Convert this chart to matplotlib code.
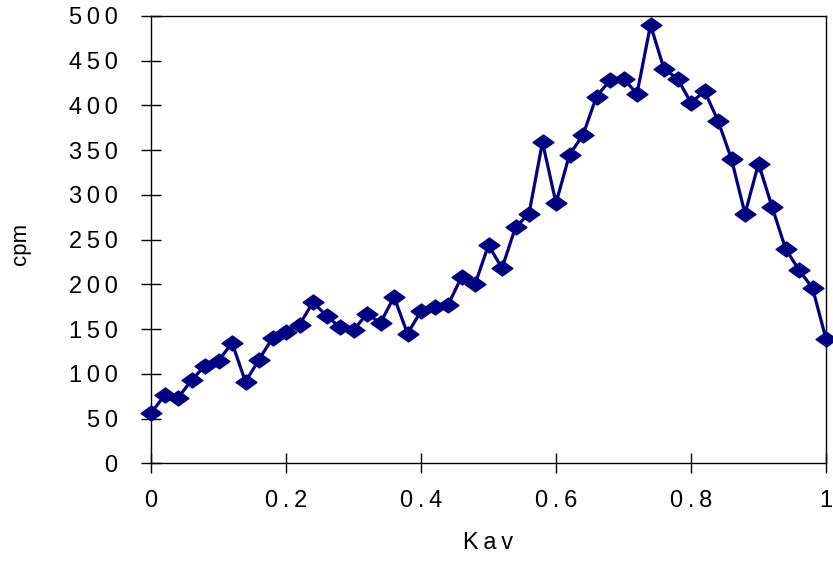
import matplotlib
matplotlib.use("Agg")
import matplotlib.pyplot as plt
from matplotlib.path import Path

plt.rcParams['font.family'] = ['Liberation Sans', 'DejaVu Sans']

# --- datos ---
kav = [0.00, 0.02, 0.04, 0.06, 0.08, 0.10, 0.12, 0.14, 0.16, 0.18,
       0.20, 0.22, 0.24, 0.26, 0.28, 0.30, 0.32, 0.34, 0.36, 0.38,
       0.40, 0.42, 0.44, 0.46, 0.48, 0.50, 0.52, 0.54, 0.56, 0.58,
       0.60, 0.62, 0.64, 0.66, 0.68, 0.70, 0.72, 0.74, 0.76, 0.78,
       0.80, 0.82, 0.84, 0.86, 0.88, 0.90, 0.92, 0.94, 0.96, 0.98, 1.00]
cpm = [56, 76, 73, 93, 109, 114, 135, 91, 116, 140,
       147, 155, 180, 165, 152, 149, 167, 157, 186, 145,
       170, 175, 177, 208, 200, 244, 218, 264, 279, 359,
       291, 345, 367, 410, 428, 430, 413, 490, 441, 430,
       403, 416, 383, 340, 279, 335, 287, 240, 216, 196, 139]

x_ticks = [0, 0.2, 0.4, 0.6, 0.8, 1]
y_ticks = list(range(0, 501, 50))

NAVY = '#000080'
TS = '\u2009'  # espacio fino entre caracteres

def spaced(s):
    return TS.join(s)

# rombo achatado (más ancho que alto)
diamond = Path([(-1, 0), (0, 0.72), (1, 0), (0, -0.72), (-1, 0)],
               [Path.MOVETO, Path.LINETO, Path.LINETO, Path.LINETO, Path.CLOSEPOLY])

fig = plt.figure(figsize=(8.33, 5.61), dpi=100)
ax = fig.add_axes([151 / 833, 97.7 / 561, 675 / 833, 447.3 / 561])

ax.plot(kav, cpm, color=NAVY, lw=2.3, marker=diamond, ms=15,
        mfc=NAVY, mec=NAVY, clip_on=False, zorder=3)

ax.set_xlim(0, 1)
ax.set_ylim(0, 500)
ax.set_xticks(x_ticks)
ax.set_xticklabels([spaced(f"{v:g}") for v in x_ticks])
ax.set_yticks(y_ticks)
ax.set_yticklabels([spaced(str(v)) for v in y_ticks])

for s in ax.spines.values():
    s.set_color('black')
    s.set_linewidth(1.0)

ax.tick_params(axis='both', direction='inout', length=14, width=1,
               color='black', labelsize=17)
ax.tick_params(axis='x', pad=12)
ax.tick_params(axis='y', pad=17)

ax.set_xlabel(spaced("Kav"), fontsize=17)
ax.xaxis.set_label_coords(0.5, -0.179)
ax.xaxis.label.set_va('center')

ax.set_ylabel("cpm", fontsize=16)
ax.yaxis.set_label_coords(-0.194, 0.49)
ax.yaxis.label.set_va('center')

fig.savefig("out.png", dpi=100)
